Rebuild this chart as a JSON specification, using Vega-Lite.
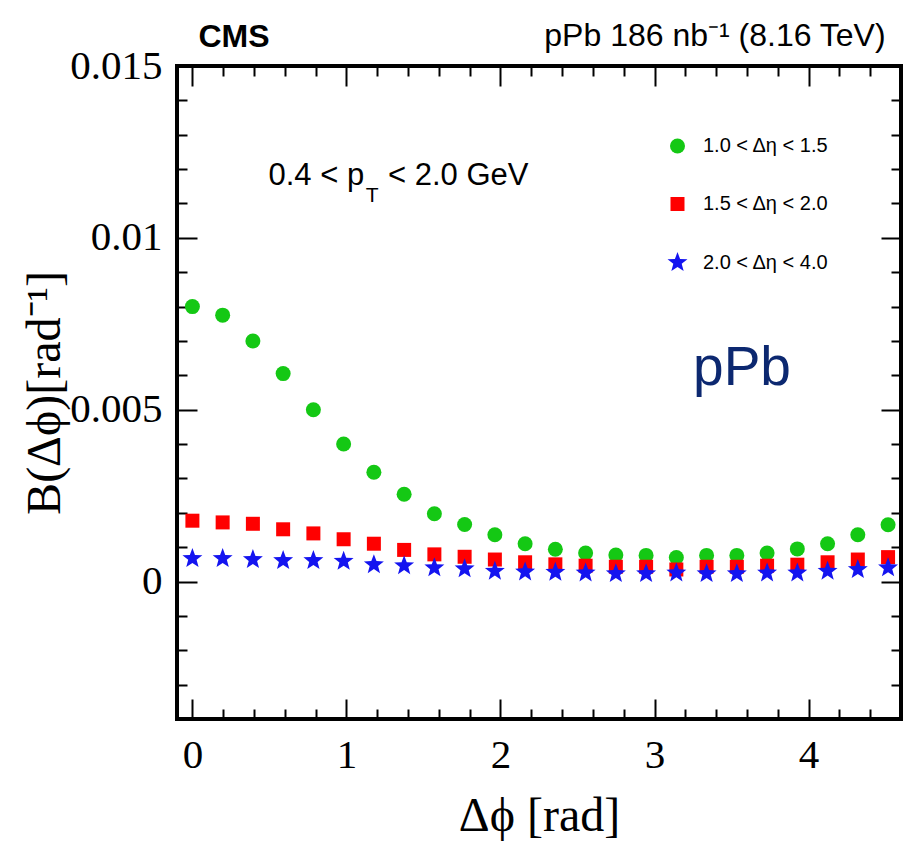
{
  "$schema": "https://vega.github.io/schema/vega-lite/v6.json",
  "width": 724,
  "height": 653,
  "autosize": "none",
  "padding": {"left": 177, "top": 66, "right": 11, "bottom": 127},
  "background": "white",
  "datasets": {
    "pts": [
      {"phi": 0, "B": 0.0080, "s": "1.0 < Δη < 1.5"},
      {"phi": 0.19635, "B": 0.00775, "s": "1.0 < Δη < 1.5"},
      {"phi": 0.3927, "B": 0.0070, "s": "1.0 < Δη < 1.5"},
      {"phi": 0.58905, "B": 0.00605, "s": "1.0 < Δη < 1.5"},
      {"phi": 0.7854, "B": 0.0050, "s": "1.0 < Δη < 1.5"},
      {"phi": 0.98175, "B": 0.0040, "s": "1.0 < Δη < 1.5"},
      {"phi": 1.1781, "B": 0.00318, "s": "1.0 < Δη < 1.5"},
      {"phi": 1.37445, "B": 0.00254, "s": "1.0 < Δη < 1.5"},
      {"phi": 1.5708, "B": 0.00197, "s": "1.0 < Δη < 1.5"},
      {"phi": 1.76715, "B": 0.00166, "s": "1.0 < Δη < 1.5"},
      {"phi": 1.9635, "B": 0.00136, "s": "1.0 < Δη < 1.5"},
      {"phi": 2.15985, "B": 0.00110, "s": "1.0 < Δη < 1.5"},
      {"phi": 2.3562, "B": 0.00094, "s": "1.0 < Δη < 1.5"},
      {"phi": 2.55255, "B": 0.00083, "s": "1.0 < Δη < 1.5"},
      {"phi": 2.7489, "B": 0.00077, "s": "1.0 < Δη < 1.5"},
      {"phi": 2.94524, "B": 0.00076, "s": "1.0 < Δη < 1.5"},
      {"phi": 3.14159, "B": 0.00070, "s": "1.0 < Δη < 1.5"},
      {"phi": 3.33794, "B": 0.00076, "s": "1.0 < Δη < 1.5"},
      {"phi": 3.53429, "B": 0.00076, "s": "1.0 < Δη < 1.5"},
      {"phi": 3.73064, "B": 0.00083, "s": "1.0 < Δη < 1.5"},
      {"phi": 3.92699, "B": 0.00095, "s": "1.0 < Δη < 1.5"},
      {"phi": 4.12334, "B": 0.00110, "s": "1.0 < Δη < 1.5"},
      {"phi": 4.31969, "B": 0.00136, "s": "1.0 < Δη < 1.5"},
      {"phi": 4.51604, "B": 0.00165, "s": "1.0 < Δη < 1.5"},
      {"phi": 0, "B": 0.00177, "s": "1.5 < Δη < 2.0"},
      {"phi": 0.19635, "B": 0.00172, "s": "1.5 < Δη < 2.0"},
      {"phi": 0.3927, "B": 0.00168, "s": "1.5 < Δη < 2.0"},
      {"phi": 0.58905, "B": 0.00152, "s": "1.5 < Δη < 2.0"},
      {"phi": 0.7854, "B": 0.00140, "s": "1.5 < Δη < 2.0"},
      {"phi": 0.98175, "B": 0.00123, "s": "1.5 < Δη < 2.0"},
      {"phi": 1.1781, "B": 0.00110, "s": "1.5 < Δη < 2.0"},
      {"phi": 1.37445, "B": 0.00092, "s": "1.5 < Δη < 2.0"},
      {"phi": 1.5708, "B": 0.00079, "s": "1.5 < Δη < 2.0"},
      {"phi": 1.76715, "B": 0.00072, "s": "1.5 < Δη < 2.0"},
      {"phi": 1.9635, "B": 0.00064, "s": "1.5 < Δη < 2.0"},
      {"phi": 2.15985, "B": 0.00056, "s": "1.5 < Δη < 2.0"},
      {"phi": 2.3562, "B": 0.00050, "s": "1.5 < Δη < 2.0"},
      {"phi": 2.55255, "B": 0.00046, "s": "1.5 < Δη < 2.0"},
      {"phi": 2.7489, "B": 0.00043, "s": "1.5 < Δη < 2.0"},
      {"phi": 2.94524, "B": 0.00043, "s": "1.5 < Δη < 2.0"},
      {"phi": 3.14159, "B": 0.00035, "s": "1.5 < Δη < 2.0"},
      {"phi": 3.33794, "B": 0.00043, "s": "1.5 < Δη < 2.0"},
      {"phi": 3.53429, "B": 0.00043, "s": "1.5 < Δη < 2.0"},
      {"phi": 3.73064, "B": 0.00046, "s": "1.5 < Δη < 2.0"},
      {"phi": 3.92699, "B": 0.00049, "s": "1.5 < Δη < 2.0"},
      {"phi": 4.12334, "B": 0.00056, "s": "1.5 < Δη < 2.0"},
      {"phi": 4.31969, "B": 0.00064, "s": "1.5 < Δη < 2.0"},
      {"phi": 4.51604, "B": 0.00071, "s": "1.5 < Δη < 2.0"},
      {"phi": 0, "B": 0.00067, "s": "2.0 < Δη < 4.0"},
      {"phi": 0.19635, "B": 0.00067, "s": "2.0 < Δη < 4.0"},
      {"phi": 0.3927, "B": 0.00064, "s": "2.0 < Δη < 4.0"},
      {"phi": 0.58905, "B": 0.00061, "s": "2.0 < Δη < 4.0"},
      {"phi": 0.7854, "B": 0.00061, "s": "2.0 < Δη < 4.0"},
      {"phi": 0.98175, "B": 0.00059, "s": "2.0 < Δη < 4.0"},
      {"phi": 1.1781, "B": 0.00049, "s": "2.0 < Δη < 4.0"},
      {"phi": 1.37445, "B": 0.00046, "s": "2.0 < Δη < 4.0"},
      {"phi": 1.5708, "B": 0.00040, "s": "2.0 < Δη < 4.0"},
      {"phi": 1.76715, "B": 0.00037, "s": "2.0 < Δη < 4.0"},
      {"phi": 1.9635, "B": 0.00030, "s": "2.0 < Δη < 4.0"},
      {"phi": 2.15985, "B": 0.00028, "s": "2.0 < Δη < 4.0"},
      {"phi": 2.3562, "B": 0.00027, "s": "2.0 < Δη < 4.0"},
      {"phi": 2.55255, "B": 0.00025, "s": "2.0 < Δη < 4.0"},
      {"phi": 2.7489, "B": 0.00023, "s": "2.0 < Δη < 4.0"},
      {"phi": 2.94524, "B": 0.00023, "s": "2.0 < Δη < 4.0"},
      {"phi": 3.14159, "B": 0.00025, "s": "2.0 < Δη < 4.0"},
      {"phi": 3.33794, "B": 0.00023, "s": "2.0 < Δη < 4.0"},
      {"phi": 3.53429, "B": 0.00023, "s": "2.0 < Δη < 4.0"},
      {"phi": 3.73064, "B": 0.00025, "s": "2.0 < Δη < 4.0"},
      {"phi": 3.92699, "B": 0.00025, "s": "2.0 < Δη < 4.0"},
      {"phi": 4.12334, "B": 0.00030, "s": "2.0 < Δη < 4.0"},
      {"phi": 4.31969, "B": 0.00035, "s": "2.0 < Δη < 4.0"},
      {"phi": 4.51604, "B": 0.00040, "s": "2.0 < Δη < 4.0"}
    ]
  },
  "layer": [
    {
      "data": {"name": "pts"},
      "mark": {"type": "point", "filled": true, "opacity": 1},
      "encoding": {
        "x": {
          "field": "phi", "type": "quantitative",
          "scale": {"domain": [-0.1, 4.6], "nice": false, "zero": false},
          "axis": {
            "orient": "bottom",
            "values": [0, 0.2, 0.4, 0.6, 0.8, 1, 1.2, 1.4, 1.6, 1.8, 2, 2.2, 2.4, 2.6, 2.8, 3, 3.2, 3.4, 3.6, 3.8, 4, 4.2, 4.4],
            "tickSize": {"condition": {"test": "datum.value % 1 === 0", "value": -20}, "value": -10},
            "labelExpr": "datum.value % 1 === 0 ? format(datum.value, 'd') : ''",
            "labelPadding": 36,
            "title": "Δϕ [rad]",
            "titleY": 111,
            "titleBaseline": "alphabetic"
          }
        },
        "y": {
          "field": "B", "type": "quantitative",
          "scale": {"domain": [-0.004, 0.015], "nice": false, "zero": false},
          "axis": {
            "orient": "left",
            "values": [-0.004, -0.003, -0.002, -0.001, 0, 0.001, 0.002, 0.003, 0.004, 0.005, 0.006, 0.007, 0.008, 0.009, 0.01, 0.011, 0.012, 0.013, 0.014, 0.015],
            "tickSize": {"condition": {"test": "datum.value === 0 || datum.value === 0.005 || datum.value === 0.01 || datum.value === 0.015", "value": -20}, "value": -10},
            "labelExpr": "datum.value === 0 ? '0' : datum.value === 0.005 ? '0.005' : datum.value === 0.01 ? '0.01' : datum.value === 0.015 ? '0.015' : ''",
            "labelPadding": 35,
            "title": "B(Δϕ)[rad⁻¹]",
            "titleX": -118,
            "titleBaseline": "alphabetic"
          }
        },
        "color": {
          "field": "s", "type": "nominal",
          "scale": {"domain": ["1.0 < Δη < 1.5", "1.5 < Δη < 2.0", "2.0 < Δη < 4.0"], "range": ["#14c814", "#ff0000", "#1414f0"]},
          "legend": {
            "orient": "none", "legendX": 490, "legendY": 70, "title": null,
            "labelFont": "Liberation Sans", "labelFontSize": 20, "labelColor": "black",
            "rowPadding": 38, "labelOffset": 15, "padding": 0, "symbolStrokeWidth": 0
          }
        },
        "shape": {
          "field": "s", "type": "nominal",
          "scale": {"domain": ["1.0 < Δη < 1.5", "1.5 < Δη < 2.0", "2.0 < Δη < 4.0"], "range": ["circle", "square", "M0,-1L0.247,-0.34L0.951,-0.309L0.399,0.13L0.588,0.809L0,0.42L-0.588,0.809L-0.399,0.13L-0.951,-0.309L-0.247,-0.34Z"]}
        },
        "size": {
          "field": "s", "type": "nominal",
          "scale": {"type": "ordinal", "domain": ["1.0 < Δη < 1.5", "1.5 < Δη < 2.0", "2.0 < Δη < 4.0"], "range": [225, 196, 440]}
        }
      }
    },
    {
      "data": {"name": "pts"},
      "mark": {"type": "point", "opacity": 0},
      "encoding": {
        "x": {
          "field": "phi", "type": "quantitative",
          "scale": {"domain": [-0.1, 4.6], "nice": false, "zero": false},
          "axis": {
            "orient": "top",
            "values": [0, 0.2, 0.4, 0.6, 0.8, 1, 1.2, 1.4, 1.6, 1.8, 2, 2.2, 2.4, 2.6, 2.8, 3, 3.2, 3.4, 3.6, 3.8, 4, 4.2, 4.4],
            "tickSize": {"condition": {"test": "datum.value % 1 === 0", "value": -20}, "value": -10},
            "labels": false,
            "title": null
          }
        },
        "y": {
          "field": "B", "type": "quantitative",
          "scale": {"domain": [-0.004, 0.015], "nice": false, "zero": false},
          "axis": {
            "orient": "right",
            "values": [-0.004, -0.003, -0.002, -0.001, 0, 0.001, 0.002, 0.003, 0.004, 0.005, 0.006, 0.007, 0.008, 0.009, 0.01, 0.011, 0.012, 0.013, 0.014, 0.015],
            "tickSize": {"condition": {"test": "datum.value === 0 || datum.value === 0.005 || datum.value === 0.01 || datum.value === 0.015", "value": -20}, "value": -10},
            "labels": false,
            "title": null
          }
        }
      }
    },
    {
      "data": {"values": [{}]},
      "mark": {"type": "text", "text": "CMS", "font": "Liberation Sans", "fontWeight": "bold", "fontSize": 32, "align": "left", "baseline": "alphabetic", "color": "black"},
      "encoding": {
        "x": {"datum": 0.039, "type": "quantitative", "scale": {"domain": [-0.1, 4.6], "nice": false, "zero": false}, "axis": null},
        "y": {"datum": 0.01556, "type": "quantitative", "scale": {"domain": [-0.004, 0.015], "nice": false, "zero": false}, "axis": null}
      }
    },
    {
      "data": {"values": [{}]},
      "mark": {"type": "text", "text": "pPb 186 nb⁻¹ (8.16 TeV)", "font": "Liberation Sans", "fontSize": 32, "align": "right", "baseline": "alphabetic", "color": "black"},
      "encoding": {
        "x": {"datum": 4.5, "type": "quantitative", "scale": {"domain": [-0.1, 4.6], "nice": false, "zero": false}, "axis": null},
        "y": {"datum": 0.01558, "type": "quantitative", "scale": {"domain": [-0.004, 0.015], "nice": false, "zero": false}, "axis": null}
      }
    },
    {
      "data": {"values": [{}]},
      "mark": {"type": "text", "text": "0.4 < p", "font": "Liberation Sans", "fontSize": 31, "align": "left", "baseline": "alphabetic", "color": "black"},
      "encoding": {
        "x": {"datum": 0.494, "type": "quantitative", "scale": {"domain": [-0.1, 4.6], "nice": false, "zero": false}, "axis": null},
        "y": {"datum": 0.01154, "type": "quantitative", "scale": {"domain": [-0.004, 0.015], "nice": false, "zero": false}, "axis": null}
      }
    },
    {
      "data": {"values": [{}]},
      "mark": {"type": "text", "text": "T", "font": "Liberation Sans", "fontSize": 21, "align": "left", "baseline": "alphabetic", "color": "black"},
      "encoding": {
        "x": {"datum": 1.125, "type": "quantitative", "scale": {"domain": [-0.1, 4.6], "nice": false, "zero": false}, "axis": null},
        "y": {"datum": 0.01105, "type": "quantitative", "scale": {"domain": [-0.004, 0.015], "nice": false, "zero": false}, "axis": null}
      }
    },
    {
      "data": {"values": [{}]},
      "mark": {"type": "text", "text": "< 2.0 GeV", "font": "Liberation Sans", "fontSize": 31, "align": "left", "baseline": "alphabetic", "color": "black"},
      "encoding": {
        "x": {"datum": 1.27, "type": "quantitative", "scale": {"domain": [-0.1, 4.6], "nice": false, "zero": false}, "axis": null},
        "y": {"datum": 0.01154, "type": "quantitative", "scale": {"domain": [-0.004, 0.015], "nice": false, "zero": false}, "axis": null}
      }
    },
    {
      "data": {"values": [{}]},
      "mark": {"type": "text", "text": "pPb", "font": "Liberation Sans", "fontSize": 55, "align": "center", "baseline": "alphabetic", "color": "#0c2870"},
      "encoding": {
        "x": {"datum": 3.568, "type": "quantitative", "scale": {"domain": [-0.1, 4.6], "nice": false, "zero": false}, "axis": null},
        "y": {"datum": 0.00572, "type": "quantitative", "scale": {"domain": [-0.004, 0.015], "nice": false, "zero": false}, "axis": null}
      }
    }
  ],
  "resolve": {"axis": {"x": "independent", "y": "independent"}},
  "config": {
    "view": {"stroke": "black", "strokeWidth": 4},
    "axis": {
      "domain": false,
      "grid": false,
      "tickColor": "black",
      "tickWidth": 2,
      "labelFont": "Liberation Serif",
      "labelFontSize": 41,
      "labelColor": "black",
      "labelFlush": false,
      "labelOverlap": false,
      "titleFont": "Liberation Serif",
      "titleFontSize": 48,
      "titleFontWeight": "normal",
      "titleColor": "black"
    }
  }
}
